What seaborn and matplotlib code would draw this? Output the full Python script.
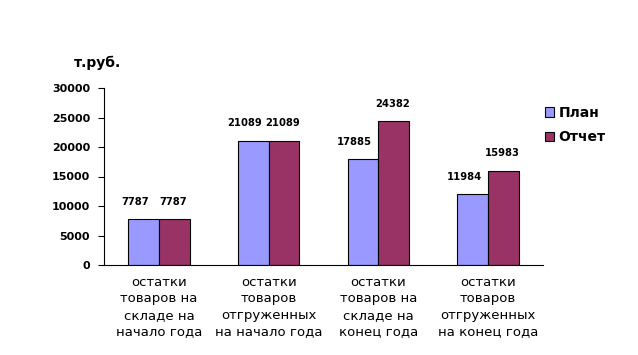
import matplotlib
matplotlib.use("Agg")
import matplotlib.pyplot as plt
import seaborn as sns
import pandas as pd
from matplotlib.ticker import FixedLocator

categories = [
    "остатки\nтоваров на\nскладе на\nначало года",
    "остатки\nтоваров\nотгруженных\nна начало года",
    "остатки\nтоваров на\nскладе на\nконец года",
    "остатки\nтоваров\nотгруженных\nна конец года",
]
series_names = ["План", "Отчет"]
plan_values = [7787, 21089, 17885, 11984]
report_values = [7787, 21089, 24382, 15983]
y_ticks = [0, 5000, 10000, 15000, 20000, 25000, 30000]
unit_label = "т.руб."
colors = ["#9999FF", "#993366"]

df = pd.DataFrame({
    "cat": categories * 2,
    "series": [series_names[0]] * 4 + [series_names[1]] * 4,
    "value": plan_values + report_values,
})

sns.set_style("white")
plt.rcParams["font.family"] = ["DejaVu Sans"]
plt.rcParams["text.color"] = "black"
plt.rcParams["xtick.color"] = "black"
plt.rcParams["ytick.color"] = "black"

fig = plt.figure(figsize=(6.38, 3.55), dpi=100)
ax = fig.add_axes([104 / 638, 1 - 265 / 355, 439 / 638, 177 / 355])

sns.barplot(data=df, x="cat", y="value", hue="series", palette=colors,
            width=0.56, edgecolor="black", linewidth=0.8, ax=ax, saturation=1,
            legend=True)

offsets = [-6, -1]
for cont, dx in zip(ax.containers, offsets):
    anns = ax.bar_label(cont, labels=[f"{int(v.get_height())}" for v in cont],
                        padding=9, fontsize=7.2, fontweight="bold", color="black")
    for a in anns:
        a.xyann = (dx, 9)

ax.set_ylim(0, 30000)
ax.set_xlim(-0.5, 3.5)
ax.set_yticks(y_ticks)
ax.set_yticklabels([str(t) for t in y_ticks], fontsize=8, fontweight="bold")
ax.set_xlabel("")
ax.set_ylabel("")

ax.set_xticks(range(4))
ax.set_xticklabels(categories, fontsize=9.5, linespacing=1.33)
ax.tick_params(axis="x", length=0, pad=8)
ax.xaxis.set_minor_locator(FixedLocator([-0.5, 0.5, 1.5, 2.5, 3.5]))
ax.tick_params(axis="x", which="minor", length=4, width=0.8, color="black", direction="out")
ax.tick_params(axis="y", length=4, width=0.8, color="black", direction="out", left=True, pad=6)

for s in ["top", "right"]:
    ax.spines[s].set_visible(False)
for s in ["left", "bottom"]:
    ax.spines[s].set_color("black")
    ax.spines[s].set_linewidth(0.8)

leg = ax.legend(loc="upper left", bbox_to_anchor=((539 - 104) / 439, 0.93),
                frameon=False, prop={"size": 10, "weight": "bold"},
                handlelength=0.7, handleheight=0.7,
                handletextpad=0.3, labelspacing=0.75, borderaxespad=0)
for t in leg.get_texts():
    t.set_color("black")

fig.text(74 / 638, 1 - 63 / 355, unit_label, fontsize=10, fontweight="bold",
         va="center", ha="left", color="black")

fig.savefig("out.png", dpi=100)
